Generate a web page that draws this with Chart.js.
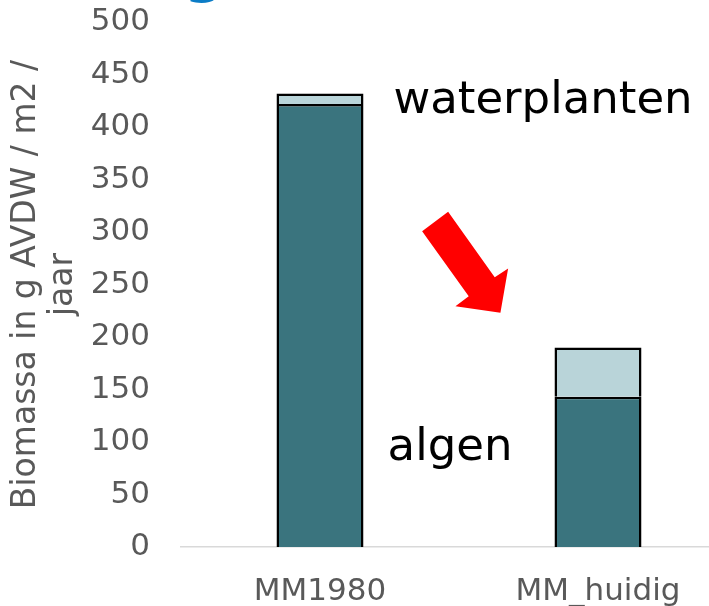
<!DOCTYPE html>
<html>
<head>
<meta charset="utf-8">
<script src="https://cdn.jsdelivr.net/npm/chart.js@4.4.1/dist/chart.umd.min.js"></script>
<style>
  html, body { margin: 0; padding: 0; background: #fff; overflow: hidden; width: 709px; height: 606px; }
  #wrap { position: relative; width: 709px; height: 606px; overflow: hidden; }
  #kop { position: absolute; left: -164px; top: -56px; font: bold 56px "DejaVu Sans"; line-height: 1; color: #0B7CC6; white-space: nowrap; }
  canvas { position: absolute; left: 0; top: 0; }
</style>
</head>
<body>
<div id="wrap">
  <canvas id="chartBio" width="737" height="606"></canvas>
  <div id="kop">Verandering (biomassa)</div>
</div>
<script>
const categories = ['MM1980', 'MM_huidig'];
const algen = [422, 143];
const waterplanten = [10, 47];
const yTicks = [0, 50, 100, 150, 200, 250, 300, 350, 400, 450, 500];

// labels in the plot, placed via the scales: [category index, value]
const noteTexts = ['waterplanten', 'algen'];
const noteAt = [[0.264, 413], [0.243, 83]];
const arrowTip = [0.649, 223];

const GREY = '#595959';
const FONT = '"DejaVu Sans", Verdana, sans-serif';

// arrow outline in pixels, relative to its tip
const arrowShape = [[-78.3,-81.6],[-52.3,-101],[-5.7,-35.6],[7.7,-44.3],[0,0],[-45,-6.6],[-31.7,-16.6]];

const notesPlugin = {
  id: 'notes',
  afterDatasetsDraw(chart){
    const {ctx, scales:{x, y}} = chart;
    ctx.save();
    ctx.fillStyle = '#000';
    ctx.font = '45px ' + FONT;
    ctx.textBaseline = 'alphabetic';
    ctx.textAlign = 'left';
    noteTexts.forEach((t,i)=>{
      ctx.fillText(t, x.getPixelForValue(noteAt[i][0]), y.getPixelForValue(noteAt[i][1]));
    });
    const tx = x.getPixelForValue(arrowTip[0]), ty = y.getPixelForValue(arrowTip[1]);
    ctx.beginPath();
    arrowShape.forEach(([dx,dy],i)=>{ i ? ctx.lineTo(tx+dx, ty+dy) : ctx.moveTo(tx+dx, ty+dy); });
    ctx.closePath();
    ctx.fillStyle = '#FF0000';
    ctx.fill();
    ctx.restore();
  }
};

new Chart(document.getElementById('chartBio'), {
  type: 'bar',
  data: {
    labels: categories,
    datasets: [
      { label: 'algen', data: algen, backgroundColor: '#3A747E', borderColor: '#000', borderWidth: 2.5 },
      { label: 'waterplanten', data: waterplanten, backgroundColor: '#B9D4D9', borderColor: '#000', borderWidth: 2.5 }
    ]
  },
  options: {
    responsive: false,
    animation: false,
    layout: { padding: { left: 8, top: 22, right: 0, bottom: 0 } },
    datasets: { bar: { categoryPercentage: 1, barPercentage: 0.313 } },
    plugins: { legend: { display: false }, tooltip: { enabled: false } },
    scales: {
      x: {
        stacked: true,
        grid: { display: false, drawTicks: false },
        border: { display: true, color: '#D9D9D9', width: 1.5 },
        ticks: { color: GREY, font: { family: FONT, size: 31 }, padding: 26, maxRotation: 0 },
        afterFit(s){ s.height = 59; s.paddingLeft = 0; s.paddingRight = 0; }
      },
      y: {
        stacked: true,
        min: 0, max: 500,
        afterBuildTicks(s){ s.ticks = yTicks.map(v=>({value:v})); },
        grid: { display: false, drawTicks: false },
        border: { display: false },
        ticks: { color: GREY, font: { family: FONT, size: 31 }, padding: 31 },
        title: {
          display: true,
          text: ['Biomassa in g AVDW / m2 /', 'jaar'],
          color: GREY,
          font: { family: FONT, size: 33, lineHeight: 1.12 },
          padding: 0
        },
        afterFit(s){ s.width = 181 - 8; s.paddingTop = 0; s.paddingBottom = 0; }
      }
    }
  },
  plugins: [notesPlugin]
});
</script>
</body>
</html>
